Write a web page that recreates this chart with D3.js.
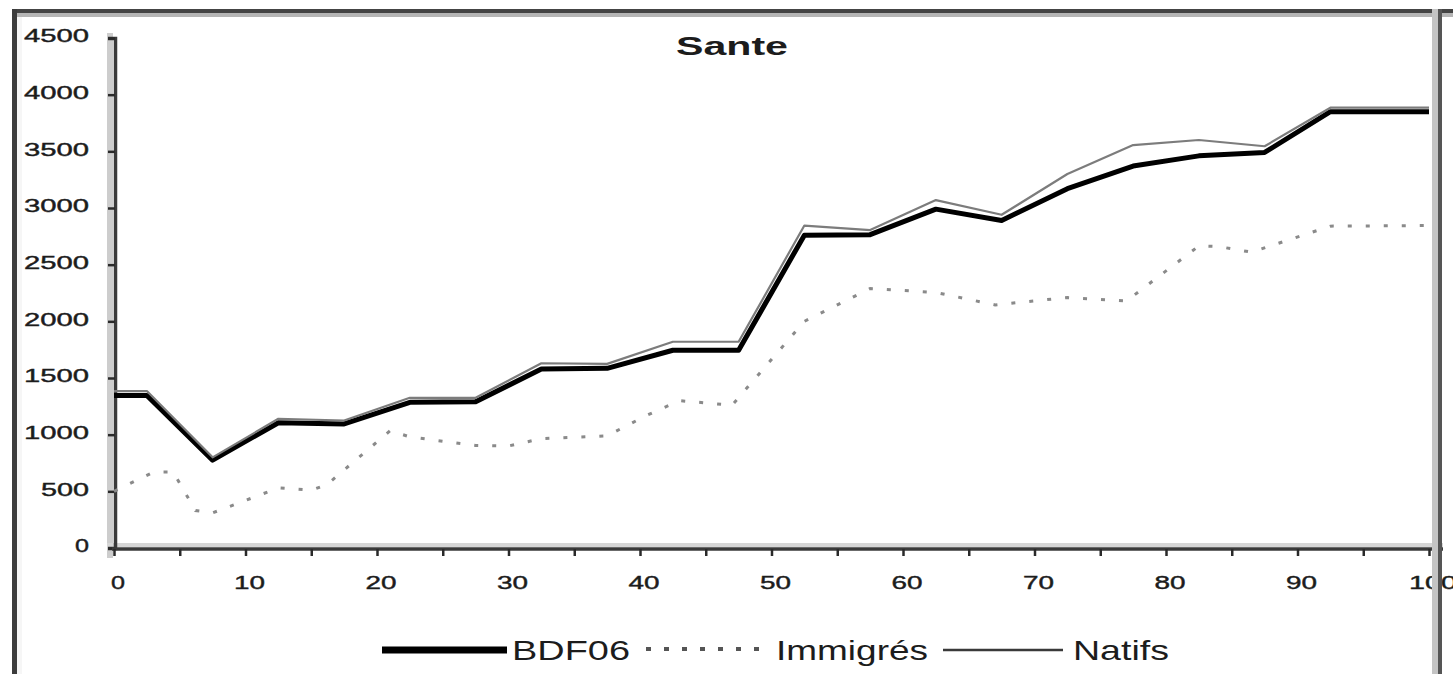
<!DOCTYPE html>
<html>
<head>
<meta charset="utf-8">
<script src="https://cdn.jsdelivr.net/npm/d3@7"></script>
<style>
  html, body { margin: 0; padding: 0; background: #fff; }
  svg { display: block; }
  text { font-family: "Liberation Sans", Arial, sans-serif; fill: #1c1c1c; }
</style>
</head>
<body>
<svg id="chart" width="1453" height="674"></svg>
<script>
// ---------- data ----------
const title = "Sante";
const xPct = [0, 2.5, 7.5, 12.5, 17.5, 22.5, 27.5, 32.5, 37.5, 42.5, 47.5, 52.5, 57.5, 62.5, 67.5, 72.5, 77.5, 82.5, 87.5, 92.5, 97.5, 100];
const bdf06 = [1345, 1345, 775, 1105, 1095, 1285, 1290, 1580, 1585, 1745, 1745, 2760, 2765, 2990, 2890, 3170, 3370, 3460, 3490, 3850, 3850, 3850];
const natifs = [1385, 1385, 800, 1140, 1125, 1325, 1325, 1630, 1625, 1820, 1820, 2845, 2805, 3070, 2940, 3300, 3555, 3600, 3545, 3885, 3885, 3885];
const immX = [0, 3, 4.5, 6.2, 7.5, 12.5, 15, 16.2, 21, 22.5, 27.5, 30, 32.5, 37.5, 40.5, 43, 47, 52.5, 57.5, 62.5, 67, 72.5, 77, 82.5, 84, 86.5, 92.5, 100];
const immigres = [500, 670, 670, 330, 310, 530, 510, 560, 1035, 980, 905, 900, 965, 990, 1170, 1300, 1260, 2000, 2290, 2255, 2145, 2210, 2180, 2665, 2660, 2610, 2840, 2845];
const yTicks = [0, 500, 1000, 1500, 2000, 2500, 3000, 3500, 4000, 4500];
const xMinorTicks = d3.range(0, 101, 5);
const xLabels = [0, 10, 20, 30, 40, 50, 60, 70, 80, 90, 100];
const legendNames = ["BDF06", "Immigrés", "Natifs"];

// ---------- layout ----------
const svg = d3.select("#chart");
const L = 114, R = 1429, T = 38, B = 548;
const x = d3.scaleLinear().domain([0, 100]).range([L, R]);
const y = d3.scaleLinear().domain([0, 4500]).range([B, T]);

// outer frame
svg.append("rect").attr("x", 12).attr("y", 13).attr("width", 1441).attr("height", 4).attr("fill", "#b5b5b5");
svg.append("rect").attr("x", 12).attr("y", 9).attr("width", 1441).attr("height", 4).attr("fill", "#444");
svg.append("rect").attr("x", 17).attr("y", 17).attr("width", 5).attr("height", 657).attr("fill", "#f6f6f6");
svg.append("rect").attr("x", 12).attr("y", 9).attr("width", 5).attr("height", 665).attr("fill", "#3c3c3c");

// axis shading bands
svg.append("rect").attr("x", 107).attr("y", 33).attr("width", 6).attr("height", 525).attr("fill", "#cdcdcd");
svg.append("rect").attr("x", 107).attr("y", 543).attr("width", 1336).attr("height", 4).attr("fill", "#d6d6d6");

// title
svg.append("text").attr("x", 676).attr("y", 55)
  .attr("font-size", 26).attr("font-weight", "bold")
  .attr("textLength", 112).attr("lengthAdjust", "spacingAndGlyphs")
  .text(title);

// y axis
const yAxis = d3.axisLeft(y).tickValues(yTicks).tickSize(7).tickFormat("");
const gy = svg.append("g").attr("transform", `translate(${L + 1},0)`).call(yAxis);
gy.select(".domain").attr("stroke", "#3a3a3a").attr("stroke-width", 3.5);
gy.selectAll(".tick line").attr("stroke", "#2a2a2a").attr("stroke-width", 2.5);
svg.append("g").selectAll("text").data(yTicks).join("text")
  .attr("x", d => 90 - String(d).length * 17 + 2)
  .attr("y", d => y(d) - 2)
  .attr("dy", "0.36em")
  .attr("font-size", 18)
  .attr("stroke", "#1c1c1c").attr("stroke-width", 0.4)
  .attr("textLength", d => String(d).length * 17 - 3)
  .attr("lengthAdjust", "spacingAndGlyphs")
  .text(d => d);

// x axis
const xAxis = d3.axisBottom(x).tickValues(xMinorTicks).tickSize(7).tickSizeOuter(0).tickFormat("");
const gx = svg.append("g").attr("transform", `translate(0,${B + 1})`).call(xAxis);
gx.select(".domain").attr("stroke", "#3a3a3a").attr("stroke-width", 3.5).attr("d", `M${L - 2},0H1443`);
gx.selectAll(".tick line").attr("stroke", "#2a2a2a").attr("stroke-width", 2.5);
svg.append("g").selectAll("text").data(xLabels).join("text")
  .attr("x", d => x(d) + 4 - (String(d).length * 17 - 3) / 2)
  .attr("y", 583)
  .attr("dy", "0.36em")
  .attr("font-size", 18)
  .attr("stroke", "#1c1c1c").attr("stroke-width", 0.4)
  .attr("textLength", d => String(d).length * 17 - 3)
  .attr("lengthAdjust", "spacingAndGlyphs")
  .text(d => d);

// series
const lineMain = d3.line().x((d, i) => x(xPct[i])).y(d => y(d));
const lineImm = d3.line().x((d, i) => x(immX[i])).y(d => y(d));

svg.append("path").datum(immigres).attr("d", lineImm)
  .attr("fill", "none").attr("stroke", "#8a8a8a").attr("stroke-width", 3)
  .attr("stroke-dasharray", "4,14");
svg.append("path").datum(bdf06).attr("d", lineMain)
  .attr("fill", "none").attr("stroke", "#000").attr("stroke-width", 5)
  .attr("stroke-linejoin", "round");
svg.append("path").datum(natifs).attr("d", lineMain)
  .attr("fill", "none").attr("stroke", "#7c7c7c").attr("stroke-width", 2.2)
  .attr("stroke-linejoin", "round");

// right frame (drawn over the cut "100")
svg.append("rect").attr("x", 1432).attr("y", 9).attr("width", 6).attr("height", 665).attr("fill", "#c4c4c4");

// legend
const lg = svg.append("g");
lg.append("line").attr("x1", 382).attr("x2", 507).attr("y1", 650).attr("y2", 650)
  .attr("stroke", "#000").attr("stroke-width", 7);
lg.append("text").attr("x", 512).attr("y", 660).attr("font-size", 28)
  .attr("textLength", 118).attr("lengthAdjust", "spacingAndGlyphs").text(legendNames[0]);
lg.append("line").attr("x1", 646).attr("x2", 762).attr("y1", 649).attr("y2", 649)
  .attr("stroke", "#555").attr("stroke-width", 4).attr("stroke-dasharray", "5,13");
lg.append("text").attr("x", 776).attr("y", 660).attr("font-size", 28)
  .attr("textLength", 152).attr("lengthAdjust", "spacingAndGlyphs").text(legendNames[1]);
lg.append("line").attr("x1", 943).attr("x2", 1063).attr("y1", 650).attr("y2", 650)
  .attr("stroke", "#3a3a3a").attr("stroke-width", 2.5);
lg.append("text").attr("x", 1073).attr("y", 660).attr("font-size", 28)
  .attr("textLength", 96).attr("lengthAdjust", "spacingAndGlyphs").text(legendNames[2]);

svg.append("rect").attr("x", 1438).attr("y", 9).attr("width", 4).attr("height", 665).attr("fill", "#555");
</script>
</body>
</html>
